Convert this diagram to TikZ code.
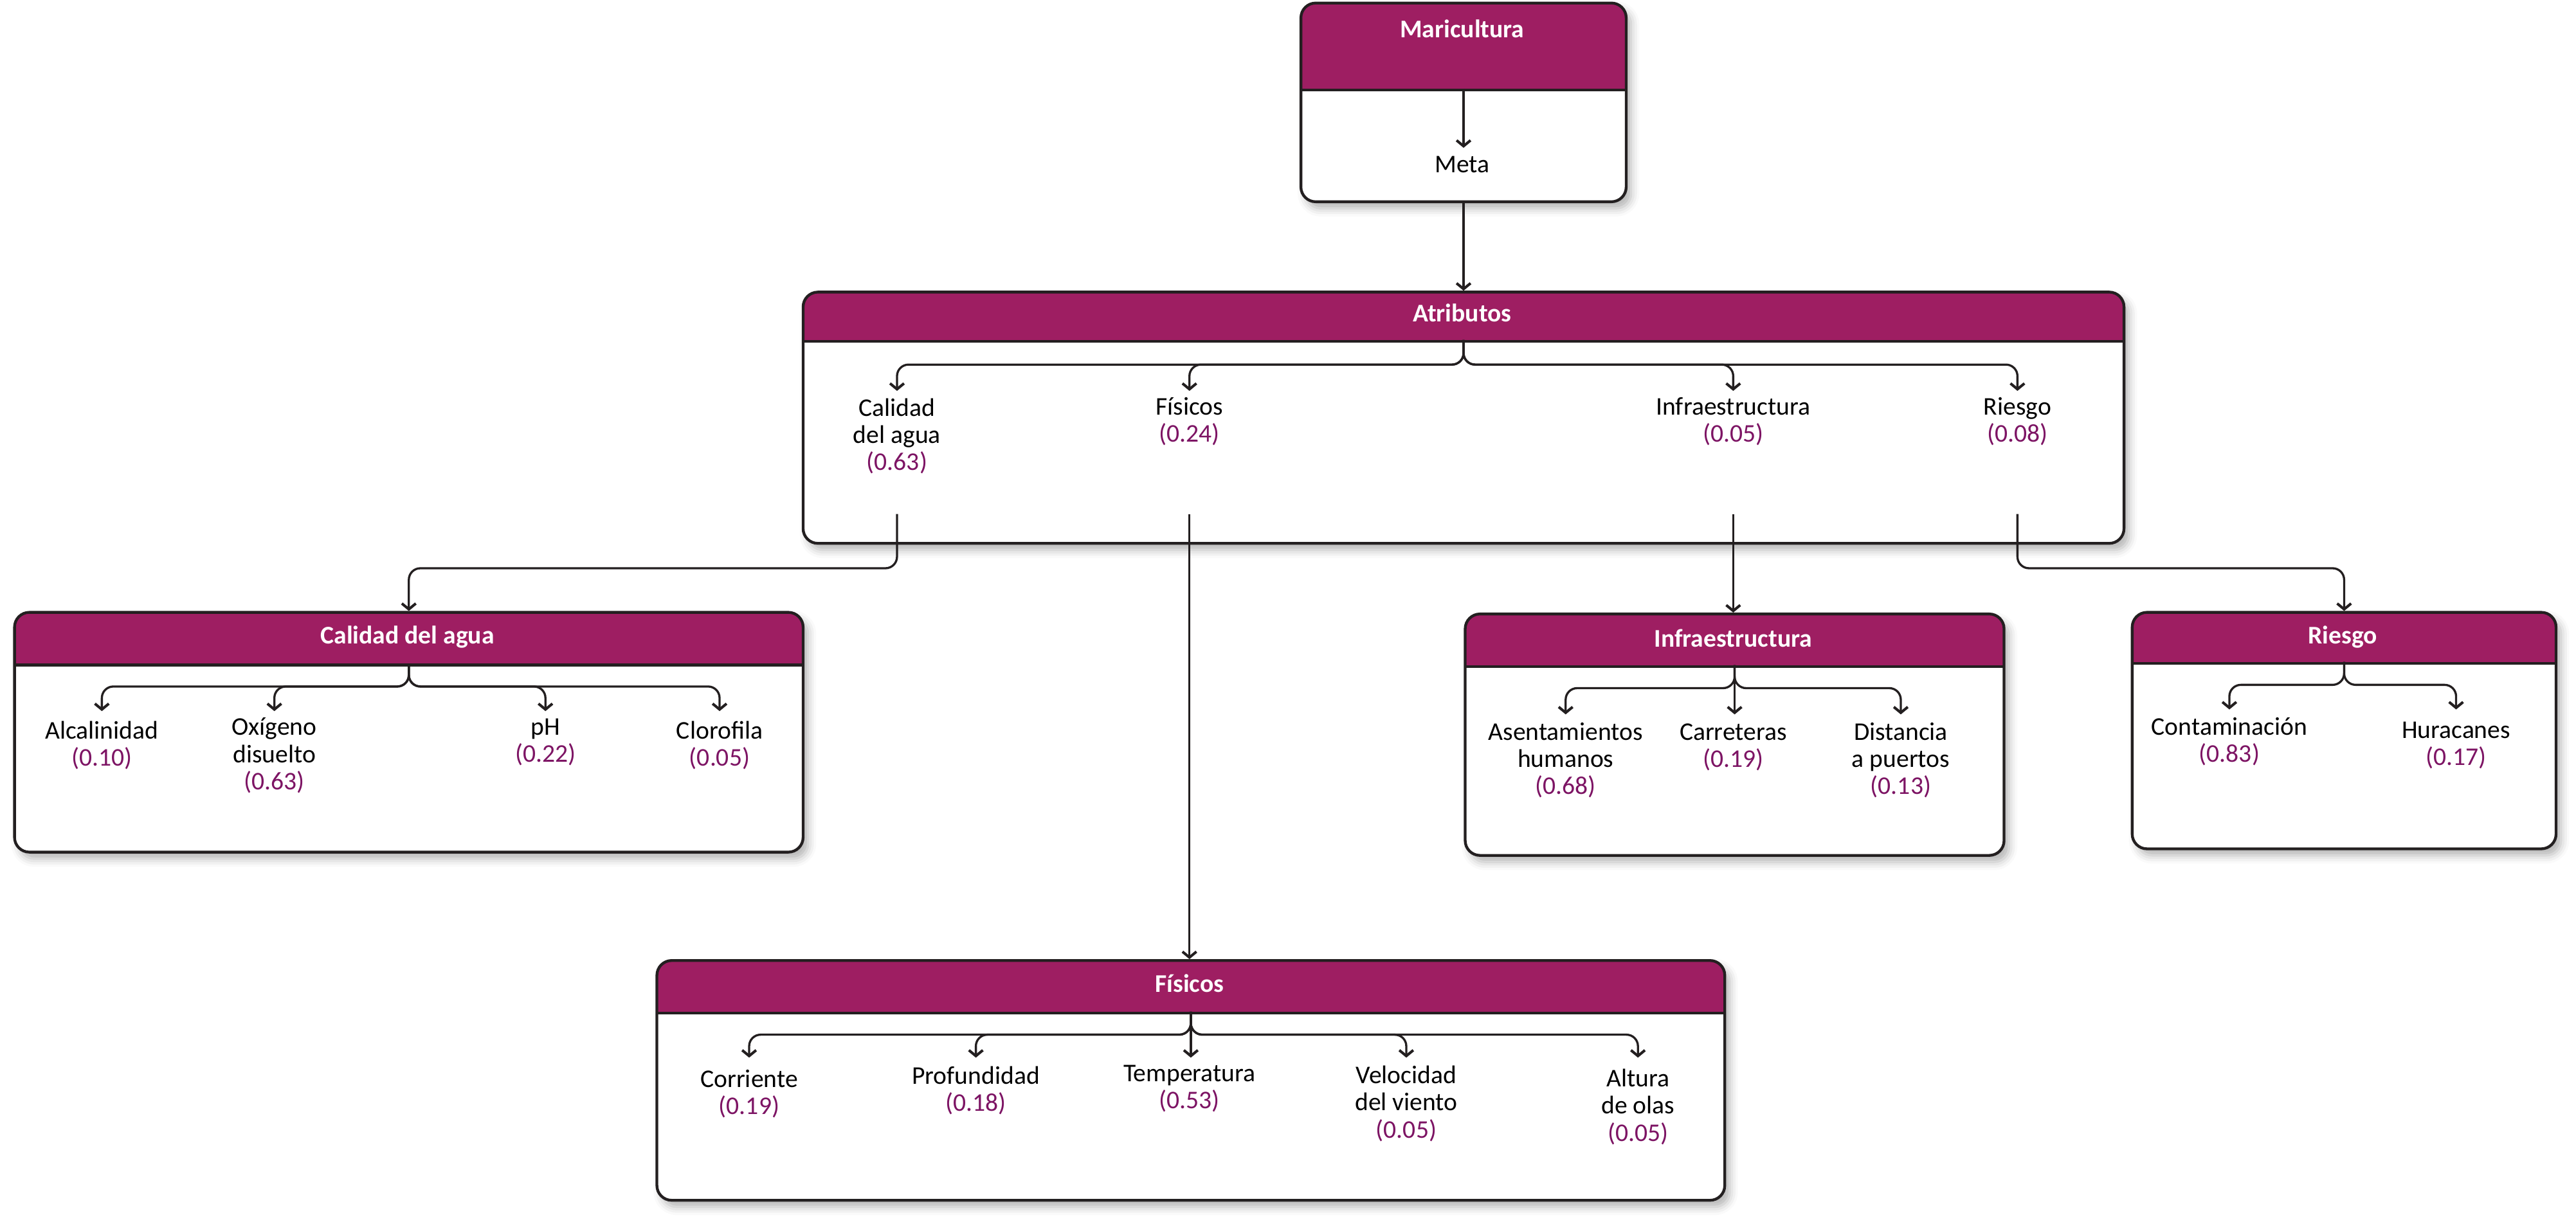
\documentclass[tikz,border=0pt]{standalone}
\usepackage{fontspec}
\setmainfont{Carlito}
\usetikzlibrary{arrows.meta,shadows.blur}
\definecolor{hdr}{RGB}{158,30,98}
\definecolor{valcol}{RGB}{125,20,100}
\definecolor{lc}{RGB}{35,31,32}
\newcommand\wv[1]{\textcolor{valcol}{#1}}
\newcommand\bodyfont{\fontsize{15.5}{16.5}\selectfont}
\begin{document}
\begin{tikzpicture}[x=1pt,y=-1pt,
  panel/.style={draw=lc, line width=1.7pt, fill=white, rounded corners=9pt,
    rectangle, inner sep=0pt, anchor=north west,
    blur shadow={shadow xshift=3pt, shadow yshift=-4pt, shadow blur radius=5pt, shadow opacity=30},
    path picture={
      \fill[hdr, sharp corners] (path picture bounding box.north west) rectangle ([yshift=-#1]path picture bounding box.north east);
      \draw[lc, line width=1.7pt, sharp corners] ([yshift=-#1]path picture bounding box.north west) -- ([yshift=-#1]path picture bounding box.north east);
    }},
  title/.style={text=white, font=\bodyfont\bfseries, inner sep=0pt, anchor=base},
  item/.style={align=center, inner sep=0pt, font=\bodyfont, text=black},
  conn/.style={draw=lc, line width=1.3pt, rounded corners=7pt,
    -{Straight Barb[length=3.5pt,width=8.5pt,line width=1.6pt]}}
]
\useasboundingbox (0,0) rectangle (1568,744);

% ---------- boxes ----------
\node[panel=53pt, minimum width=198pt, minimum height=121pt] (mBox) at (791,1) {};
\node[panel=30pt, minimum width=804pt, minimum height=153pt] (aBox) at (488,177) {};
\node[panel=32pt, minimum width=480pt, minimum height=146pt] (cBox) at (8,372) {};
\node[panel=32pt, minimum width=328pt, minimum height=147pt] (iBox) at (891,373) {};
\node[panel=31pt, minimum width=258pt, minimum height=144pt] (rBox) at (1297,372) {};
\node[panel=32pt, minimum width=650pt, minimum height=146pt] (fBox) at (399,584) {};

% ---------- titles ----------
\node[title] (mT) at (890,23) {Maricultura};
\node[title] (aT) at (890,196) {Atributos};
\node[title] (cT) at (248,392) {Calidad del agua};
\node[title] (iT) at (1055,394) {Infraestructura};
\node[title] (rT) at (1426,392) {Riesgo};
\node[title] (fT) at (724,604) {Físicos};

% ---------- hubs and tip levels ----------
\coordinate (mHub) at ([yshift=-53pt]mBox.north);
\coordinate (aHub) at ([yshift=-30pt]aBox.north);
\coordinate (cHub) at ([yshift=-32pt]cBox.north);
\coordinate (iHub) at ([yshift=-32pt]iBox.north);
\coordinate (rHub) at ([yshift=-31pt]rBox.north);
\coordinate (fHub) at ([yshift=-32pt]fBox.north);
\coordinate (mTip) at (0,90);
\coordinate (aTip) at (0,238);
\coordinate (cTip) at (0,433);
\coordinate (iTip) at (0,435);
\coordinate (rTip) at (0,432);
\coordinate (fTip) at (0,644);

% ---------- Maricultura ----------
\node[item, anchor=base] (meta) at (890,105) {Meta};
\draw[conn] (mHub) -- (mHub |- mTip);
\draw[conn] (mBox.south) -- (mBox.south |- aBox.north);

% ---------- Atributos ----------
\node[item] (aCal) at (546,265.5) {Calidad\\del agua\\\wv{(0.63)}};
\node[item] (aFis) at (724,256.5) {Físicos\\\wv{(0.24)}};
\node[item] (aInf) at (1055,256.5) {Infraestructura\\\wv{(0.05)}};
\node[item] (aRie) at (1228,256.5) {Riesgo\\\wv{(0.08)}};
\foreach \c in {aCal,aFis,aInf,aRie}
  \draw[conn] (aHub) -- ++(0,15) -| (\c.north |- aTip);

\coordinate (aCalOut) at (546,313);
\coordinate (aFisOut) at (724,313);
\coordinate (aInfOut) at (1055,313);
\coordinate (aRieOut) at (1228,313);
\draw[conn] (aCalOut) -- ++(0,33) -| (cBox.north);
\draw[conn] (aFisOut) -- (aFisOut |- fBox.north);
\draw[conn] (aInfOut) -- (aInfOut |- iBox.north);
\draw[conn] (aRieOut) -- ++(0,33) -| (rBox.north);

% ---------- Calidad del agua ----------
\node[item] (c1) at (62,454) {Alcalinidad\\\wv{(0.10)}};
\node[item] (c2) at (167,460) {Oxígeno\\disuelto\\\wv{(0.63)}};
\node[item] (c3) at (332,452) {pH\\\wv{(0.22)}};
\node[item] (c4) at (438,454) {Clorofila\\\wv{(0.05)}};
\foreach \c in {c1,c2,c3,c4}
  \draw[conn] (cHub) -- ++(0,14) -| (\c.north |- cTip);

% ---------- Infraestructura ----------
\node[item] (i1) at (953,463) {Asentamientos\\humanos\\\wv{(0.68)}};
\node[item] (i2) at (1055,455) {Carreteras\\\wv{(0.19)}};
\node[item] (i3) at (1157,463) {Distancia\\a puertos\\\wv{(0.13)}};
\foreach \c in {i1,i3}
  \draw[conn] (iHub) -- ++(0,14) -| (\c.north |- iTip);
\draw[conn] (iHub) -- (iHub |- iTip);

% ---------- Riesgo ----------
\node[item] (r1) at (1357,451.5) {Contaminación\\\wv{(0.83)}};
\node[item] (r2) at (1495,454) {Huracanes\\\wv{(0.17)}};
\foreach \c in {r1,r2}
  \draw[conn] (rHub) -- ++(0,14) -| (\c.north |- rTip);

% ---------- Físicos ----------
\node[item] (f1) at (456,666) {Corriente\\\wv{(0.19)}};
\node[item] (f2) at (594,664) {Profundidad\\\wv{(0.18)}};
\node[item] (f3) at (724,663) {Temperatura\\\wv{(0.53)}};
\node[item] (f4) at (856,672) {Velocidad\\del viento\\\wv{(0.05)}};
\node[item] (f5) at (997,674) {Altura\\de olas\\\wv{(0.05)}};
\foreach \c in {f1,f2,f4,f5}
  \draw[conn] (fHub) -- ++(0,14) -| (\c.north |- fTip);
\draw[conn] (fHub) -- (fHub |- fTip);
\end{tikzpicture}
\end{document}
